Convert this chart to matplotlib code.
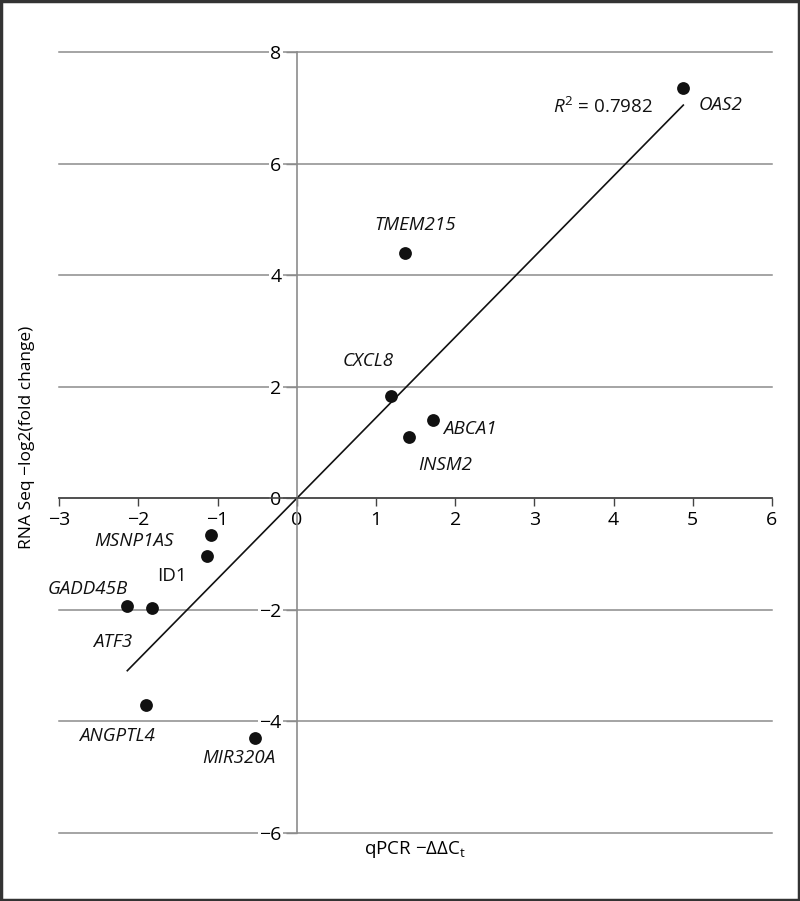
import numpy as np
import matplotlib
matplotlib.use("Agg")
import matplotlib.pyplot as plt
from matplotlib.patches import Rectangle

plt.rcParams['font.family'] = ['Open Sans', 'DejaVu Sans']
plt.rcParams['mathtext.fontset'] = 'custom'
plt.rcParams['mathtext.rm'] = 'Open Sans'
plt.rcParams['mathtext.it'] = 'Open Sans:italic'

# datos
genes = ['OAS2', 'TMEM215', 'CXCL8', 'ABCA1', 'INSM2', 'MSNP1AS',
         'ID1', 'GADD45B', 'ATF3', 'ANGPTL4', 'MIR320A']
qpcr = np.array([4.88, 1.37, 1.19, 1.72, 1.42, -1.08,
                 -1.14, -2.14, -1.83, -1.90, -0.53])
rnaseq = np.array([7.35, 4.39, 1.83, 1.40, 1.09, -0.65,
                   -1.04, -1.94, -1.97, -3.70, -4.29])
r2_text = '$\\mathit{R}^\\mathrm{2}$ = 0.7982'
x_ticks = [-3, -2, -1, 0, 1, 2, 3, 4, 5, 6]
y_ticks = [-6, -4, -2, 0, 2, 4, 6, 8]

# posicion de las etiquetas (x, y, alineacion)
label_pos = {
    'OAS2': (5.07, 7.05, 'left'),
    'TMEM215': (1.49, 4.90, 'center'),
    'CXCL8': (0.90, 2.46, 'center'),
    'ABCA1': (2.19, 1.24, 'center'),
    'INSM2': (1.87, 0.59, 'center'),
    'MSNP1AS': (-2.06, -0.77, 'center'),
    'ID1': (-1.58, -1.40, 'center'),
    'GADD45B': (-2.64, -1.63, 'center'),
    'ATF3': (-2.33, -2.57, 'center'),
    'ANGPTL4': (-2.27, -4.27, 'center'),
    'MIR320A': (-0.73, -4.65, 'center'),
}

fig = plt.figure(figsize=(8, 9.01), dpi=100)
ax = fig.add_axes([0.074, 0.0755, 0.891, 0.8668])

# lineas horizontales
for yv in y_ticks:
    ax.axhline(yv, color='#8c8c8c', lw=1.1, zorder=0, clip_on=False)

# regresion por el origen
slope = np.sum(qpcr * rnaseq) / np.sum(qpcr ** 2)
xl = np.array([qpcr.min(), qpcr.max()])
ax.plot(xl, slope * xl, color='#111111', lw=1.2, zorder=2)

ax.scatter(qpcr, rnaseq, s=85, color='#111111', zorder=3, linewidths=0)

for g in genes:
    px, py, ha = label_pos[g]
    st = 'normal' if g == 'ID1' else 'italic'
    ax.text(px, py, g, style=st, fontsize=13.5, ha=ha, va='center',
            color='#111111')

ax.text(4.50, 7.02, r2_text, fontsize=13.5, ha='right', va='center',
        color='#111111')

ax.set_xlim(-3, 6)
ax.set_ylim(-6, 8)
ax.spines['left'].set_position(('data', 0))
ax.spines['bottom'].set_position(('data', 0))
ax.spines['right'].set_visible(False)
ax.spines['top'].set_visible(False)
ax.spines['left'].set_color('#8c8c8c')
ax.spines['bottom'].set_color('#444444')
ax.spines['left'].set_linewidth(1.2)
ax.spines['bottom'].set_linewidth(1.2)

ax.set_xticks(x_ticks)
ax.set_yticks(y_ticks)
ax.set_xticklabels([str(v).replace('-', '\u2212') for v in x_ticks])
ax.set_yticklabels([str(v).replace('-', '\u2212') for v in y_ticks])
ax.tick_params(axis='x', direction='out', length=6, width=1.0,
               color='#444444', labelsize=14, pad=3)
ax.tick_params(axis='y', direction='out', length=8, width=1.0,
               color='#8c8c8c', labelsize=14, pad=3)
for lab in ax.get_yticklabels():
    lab.set_bbox(dict(facecolor='white', edgecolor='none', pad=1))

fig.text(0.034, 0.515, 'RNA Seq \u2212log2(fold change)', rotation=90,
         ha='center', va='center', fontsize=12.5)
fig.text(0.519, 0.057, 'qPCR \u2212\u0394\u0394C$_\\mathrm{t}$',
         ha='center', va='center', fontsize=13.5)

fig.patches.append(Rectangle((0.001, 0.001), 0.998, 0.998,
                             transform=fig.transFigure, fill=False,
                             edgecolor='#333333', lw=2.5))

fig.savefig('out.png', dpi=100)
